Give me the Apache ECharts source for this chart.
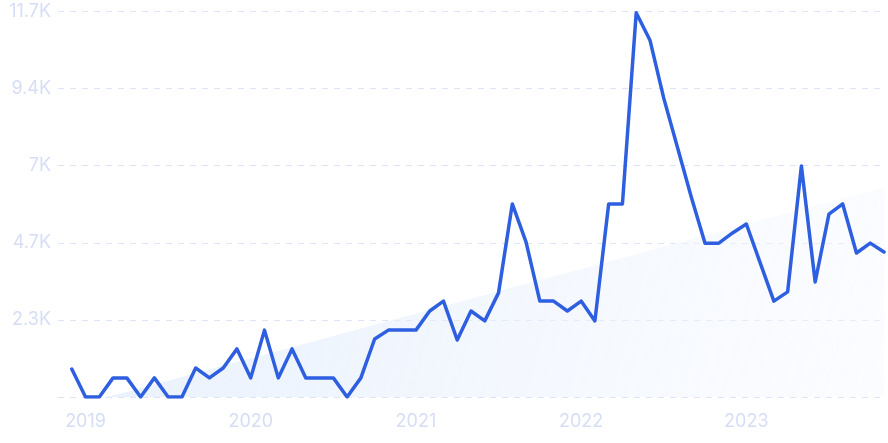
<!DOCTYPE html>
<html>
<head>
<meta charset="utf-8">
<script src="https://cdn.jsdelivr.net/npm/echarts@6/dist/echarts.min.js"></script>
<style>
html,body{margin:0;padding:0;background:#fff;}
#c{width:888px;height:443px;}
</style>
</head>
<body>
<div id="c"></div>
<script>
// Monthly categories: Nov 2018 .. Nov 2023
const months = [
  '2018-11','2018-12',
  '2019-01','2019-02','2019-03','2019-04','2019-05','2019-06','2019-07','2019-08','2019-09','2019-10','2019-11','2019-12',
  '2020-01','2020-02','2020-03','2020-04','2020-05','2020-06','2020-07','2020-08','2020-09','2020-10','2020-11','2020-12',
  '2021-01','2021-02','2021-03','2021-04','2021-05','2021-06','2021-07','2021-08','2021-09','2021-10','2021-11','2021-12',
  '2022-01','2022-02','2022-03','2022-04','2022-05','2022-06','2022-07','2022-08','2022-09','2022-10','2022-11','2022-12',
  '2023-01','2023-02','2023-03','2023-04','2023-05','2023-06','2023-07','2023-08','2023-09','2023-10','2023-11'
];
// Search volume values
const volume = [
  null, 850,
  0, 0, 580, 580, 0, 580, 0, 0, 880, 580, 880, 1460,
  580, 2030, 580, 1460, 580, 580, 580, 0, 580, 1760, 2030, 2030,
  2030, 2610, 2910, 1730, 2610, 2310, 3160, 5860, 4700, 2910, 2910, 2610,
  2910, 2310, 5860, 5860, 11660, 10830, 9070, 7570, 6070, 4670, 4670, 4980,
  5250, 4080, 2910, 3190, 7010, 3490, 5550, 5860, 4370, 4670, 4400
];
// Trend (straight shaded band) values
const trend = [
  -411, -297,
  -184, -71, 42, 155, 268, 381, 494, 608, 721, 834, 947, 1060,
  1173, 1286, 1399, 1512, 1625, 1739, 1852, 1965, 2078, 2191, 2304, 2417,
  2530, 2643, 2756, 2870, 2983, 3096, 3209, 3322, 3435, 3548, 3661, 3774,
  3887, 4001, 4114, 4227, 4340, 4453, 4566, 4679, 4792, 4905, 5018, 5132,
  5245, 5358, 5471, 5584, 5697, 5810, 5923, 6036, 6149, 6263, 6376
];
const yTicks = [0, 2340, 4680, 7020, 9360, 11700];

const chart = echarts.init(document.getElementById('c'), null, {renderer:'canvas'});
function fmtK(v){
  if (v === 0) return '';
  const k = Math.round(v/100)/10;
  return (Number.isInteger(k) ? k.toFixed(0) : k.toFixed(1)) + 'K';
}
chart.setOption({
  animation:false,
  grid:{left:58, right:4, top:11.5, bottom:46, containLabel:false},
  xAxis:{
    type:'category',
    data:months,
    boundaryGap:false,
    axisLine:{show:false},
    axisTick:{show:false},
    splitLine:{show:false},
    axisLabel:{
      color:'#d6def6',
      fontSize:18,
      fontFamily:'Inter',
      margin:16,
      interval:function(i, v){ return v.endsWith('-01'); },
      formatter:function(v){ return v.slice(0,4); }
    }
  },
  yAxis:{
    type:'value',
    min:yTicks[0],
    max:yTicks[yTicks.length-1],
    interval:yTicks[1]-yTicks[0],
    axisLine:{show:false},
    axisTick:{show:false},
    axisLabel:{
      color:'#d6def6',
      fontSize:18,
      fontFamily:'Inter',
      margin:7,
      formatter:fmtK
    },
    splitLine:{
      show:true,
      lineStyle:{color:'#dde4f8', type:[6,6], width:1}
    }
  },
  series:[
    {
      type:'line',
      data:trend,
      showSymbol:false,
      symbol:'none',
      lineStyle:{width:0, opacity:0},
      areaStyle:{
        origin:'start',
        color:new echarts.graphic.LinearGradient(0,0,1,1,[
          {offset:0, color:'rgba(218,232,251,0.95)'},
          {offset:1, color:'rgba(246,249,255,0.6)'}
        ])
      },
      clip:true,
      z:1,
      silent:true
    },
    {
      type:'line',
      data:volume,
      showSymbol:false,
      symbol:'none',
      lineStyle:{color:'#2e5fe0', width:3.5, join:'round', cap:'round'},
      z:3
    }
  ]
});
</script>
</body>
</html>
